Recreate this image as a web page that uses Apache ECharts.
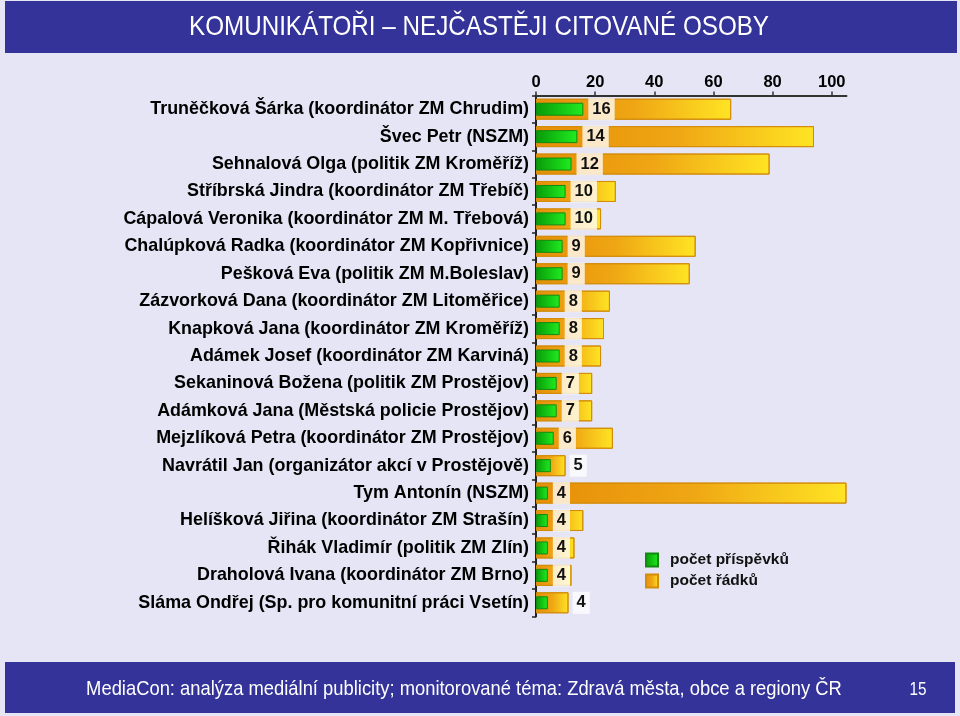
<!DOCTYPE html>
<html><head><meta charset="utf-8">
<script src="https://cdn.jsdelivr.net/npm/echarts@6/dist/echarts.min.js"></script>
<style>html,body{margin:0;padding:0;background:#e5e5f5;} #c{width:960px;height:716px;}</style>
</head><body><div id="c"></div>
<script>
// ---- data ----
const categories = [
  'Truněčková Šárka (koordinátor ZM Chrudim)',
  'Švec Petr (NSZM)',
  'Sehnalová Olga (politik ZM Kroměříž)',
  'Stříbrská Jindra (koordinátor ZM Třebíč)',
  'Cápalová Veronika (koordinátor ZM M. Třebová)',
  'Chalúpková Radka (koordinátor ZM Kopřivnice)',
  'Pešková Eva (politik ZM M.Boleslav)',
  'Zázvorková Dana (koordinátor ZM Litoměřice)',
  'Knapková Jana (koordinátor ZM Kroměříž)',
  'Adámek Josef (koordinátor ZM Karviná)',
  'Sekaninová Božena (politik ZM Prostějov)',
  'Adámková Jana (Městská policie Prostějov)',
  'Mejzlíková Petra (koordinátor ZM Prostějov)',
  'Navrátil Jan (organizátor akcí v Prostějově)',
  'Tym Antonín (NSZM)',
  'Helíšková Jiřina (koordinátor ZM Strašín)',
  'Řihák Vladimír (politik ZM Zlín)',
  'Draholová Ivana (koordinátor ZM Brno)',
  'Sláma Ondřej (Sp. pro komunitní práci Vsetín)'
];
const contributions = [16,14,12,10,10,9,9,8,8,8,7,7,6,5,4,4,4,4,4];
const lineCounts   = [66,94,79,27,22,54,52,25,23,22,19,19,26,10,105,16,13,12,11];
const xTickValues  = [0,20,40,60,80,100];
const seriesNames  = ['počet příspěvků','počet řádků'];
const titleText  = 'KOMUNIKÁTOŘI – NEJČASTĚJI CITOVANÉ OSOBY';
const footerText = 'MediaCon: analýza mediální publicity; monitorované téma: Zdravá města, obce a regiony ČR';
const pageNumber = '15';

// ---- style ----
const SANS = '"Liberation Sans",Arial,sans-serif';
const BANNER = '#333399';
const LABEL_FONT_SIZE = 16.5;
const LABEL_DIST = 5;

const orangeGrad = {type:'linear',x:0,y:0,x2:1,y2:0,colorStops:[
  {offset:0,color:'#e68e08'},{offset:0.5,color:'#efa614'},{offset:1,color:'#ffe424'}]};
const greenGrad = {type:'linear',x:0,y:0,x2:1,y2:0,colorStops:[
  {offset:0,color:'#089a08'},{offset:1,color:'#20ec20'}]};

const chart = echarts.init(document.getElementById('c'));

function buildOption(distances){
  return {
    backgroundColor:'#e5e5f5',
    animation:false,
    grid:{left:536, top:95.5, width:310.5, height:521, containLabel:false},
    legend:{
      data:seriesNames, orient:'vertical', left:645, top:552,
      itemWidth:12, itemHeight:13, itemGap:5, padding:0,
      icon:'rect',
      textStyle:{fontFamily:SANS, fontWeight:'bold', fontSize:15.5, color:'#111', padding:[0,0,0,7]}
    },
    xAxis:{
      type:'value', position:'top', min:0, max:105, interval:20,
      axisLine:{show:true, lineStyle:{color:'#333', width:2}},
      axisTick:{show:true, length:4, customValues:xTickValues, lineStyle:{color:'#333', width:1.5}},
      axisLabel:{customValues:xTickValues, fontFamily:SANS, fontWeight:'bold', fontSize:16.5, color:'#000', margin:5},
      splitLine:{show:false}
    },
    yAxis:[{
      type:'category', data:categories, inverse:true, position:'left',
      axisLine:{show:true, lineStyle:{color:'#222', width:2}},
      axisTick:{show:true, length:4, lineStyle:{color:'#222', width:1.5}},
      axisLabel:{fontFamily:SANS, fontWeight:'bold', fontSize:17.9, color:'#000', margin:7}
    },{
      type:'category', data:categories, inverse:true, show:false
    }],
    series:[{
      name:seriesNames[1], type:'bar', yAxisIndex:0, data:lineCounts, barWidth:21, z:2,
      itemStyle:{color:orangeGrad, borderColor:'#d48c0a', borderWidth:1}
    },{
      name:seriesNames[0], type:'bar', yAxisIndex:1, barWidth:13, z:3,
      data:contributions.map((v,i)=>({value:v, label:{distance:distances ? distances[i] : LABEL_DIST}})),
      itemStyle:{color:greenGrad, borderColor:'#118a11', borderWidth:1},
      label:{show:true, position:'right', fontFamily:SANS, fontWeight:'bold', fontSize:LABEL_FONT_SIZE,
        color:'#111', backgroundColor:'rgba(255,255,255,0.78)', padding:[2,4], lineHeight:18}
    }],
    graphic:[
      {type:'rect', shape:{x:5,y:1,width:952,height:52}, style:{fill:BANNER}, silent:true},
      {type:'text', x:479, y:27, scaleX:0.865, style:{text:titleText, fill:'#fff', font:'28px '+SANS, textAlign:'center', textVerticalAlign:'middle'}},
      {type:'rect', shape:{x:5,y:662,width:950,height:51}, style:{fill:BANNER}, silent:true},
      {type:'text', x:464, y:689, scaleX:0.875, style:{text:footerText, fill:'#fff', font:'21px '+SANS, textAlign:'center', textVerticalAlign:'middle'}},
      {type:'text', x:918, y:690, scaleX:0.85, style:{text:pageNumber, fill:'#fff', font:'18px '+SANS, textAlign:'center', textVerticalAlign:'middle'}}
    ]
  };
}

chart.setOption(buildOption(null));
// push a value label past the orange bar when it would not fit inside it
const ctx = document.createElement('canvas').getContext('2d');
ctx.font = 'bold ' + LABEL_FONT_SIZE + 'px ' + SANS;
const distances = contributions.map((v,i)=>{
  const gx = chart.convertToPixel({xAxisIndex:0}, v);
  const ox = chart.convertToPixel({xAxisIndex:0}, lineCounts[i]);
  const boxW = ctx.measureText(String(v)).width + 8;
  return (gx + LABEL_DIST + boxW > ox) ? (ox - gx + 4) : LABEL_DIST;
});
chart.setOption(buildOption(distances));
</script></body></html>
